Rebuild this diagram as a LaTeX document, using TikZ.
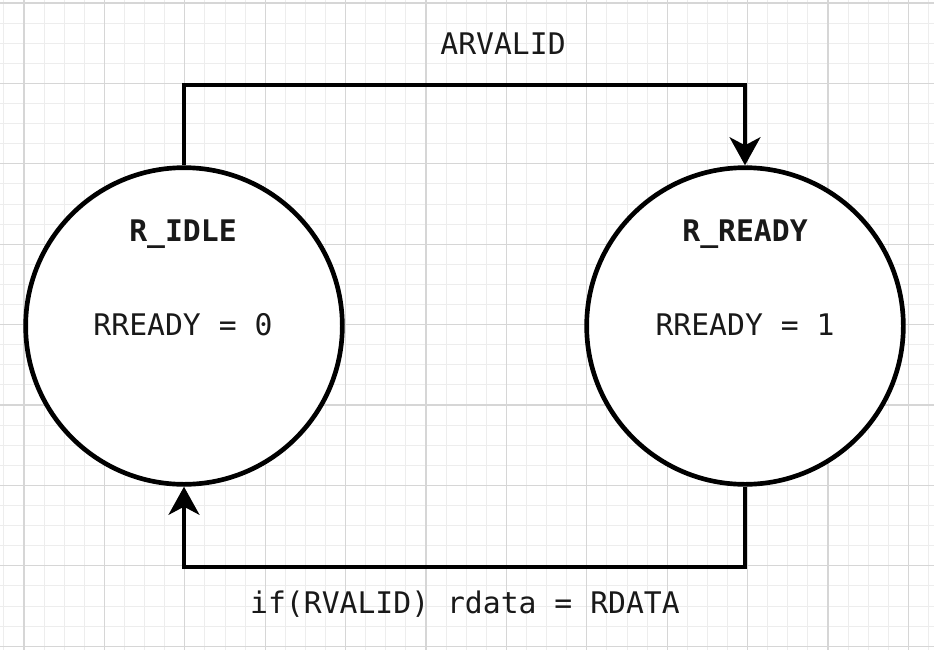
\documentclass[tikz,border=0pt]{standalone}
\usepackage{fontspec}
\setmonofont{DejaVu Sans Mono}
\usetikzlibrary{arrows.meta}
\begin{document}
\begin{tikzpicture}[x=0.75pt,y=-0.75pt,
  minorline/.style={draw=black!7,line width=0.75pt},
  majorline/.style={draw=black!16,line width=0.9pt},
  statenode/.style={circle,draw=black,line width=3.5pt,fill=white,minimum size=237.5pt,inner sep=0pt},
  txt/.style={font=\ttfamily\fontsize{22.3}{26}\selectfont,inner sep=0pt,text=black!90},
  btxt/.style={font=\ttfamily\bfseries\fontsize{22.3}{26}\selectfont,inner sep=0pt,text=black!90},
  conn/.style={draw=black,line width=3.5pt,line join=miter},
  arr/.style={-{Stealth[length=21pt,width=23pt,inset=6pt]}}
]
\useasboundingbox (0,0) rectangle (934,650);
\fill[white] (0,0) rectangle (934,650);
% grid
\foreach \k in {-1,...,46}{
  \pgfmathsetmacro{\xx}{24+20.1*\k}
  \draw[minorline] (\xx,0) -- (\xx,650);
}
\foreach \k in {0,...,32}{
  \pgfmathsetmacro{\yy}{3+20.1*\k}
  \draw[minorline] (0,\yy) -- (934,\yy);
}
\foreach \k in {0,...,11}{
  \pgfmathsetmacro{\xx}{24+80.4*\k}
  \draw[majorline] (\xx,0) -- (\xx,650);
}
\foreach \k in {0,...,8}{
  \pgfmathsetmacro{\yy}{3+80.4*\k}
  \draw[majorline] (0,\yy) -- (934,\yy);
}
% states
\node[statenode] (idle) at (184,326) {};
\node[statenode] (ready) at (745,326) {};
\node[btxt] (idlename) at (183,234) {R\_IDLE};
\node[txt] (idleout) at (183,325) {RREADY = 0};
\node[btxt] (readyname) at (745,234) {R\_READY};
\node[txt] (readyout) at (745,325) {RREADY = 1};
% connectors
\coordinate (tl) at (184,85);
\coordinate (tr) at (745,85);
\coordinate (bl) at (184,567);
\coordinate (br) at (745,567);
\draw[conn,arr] (idle.north) -- (tl) -- (tr) -- (ready.north);
\draw[conn,arr] (ready.south) -- (br) -- (bl) -- (idle.south);
\node[txt] (toplabel) at (503,44) {ARVALID};
\node[txt] (botlabel) at (465,604) {if(RVALID) rdata = RDATA};
\end{tikzpicture}
\end{document}
